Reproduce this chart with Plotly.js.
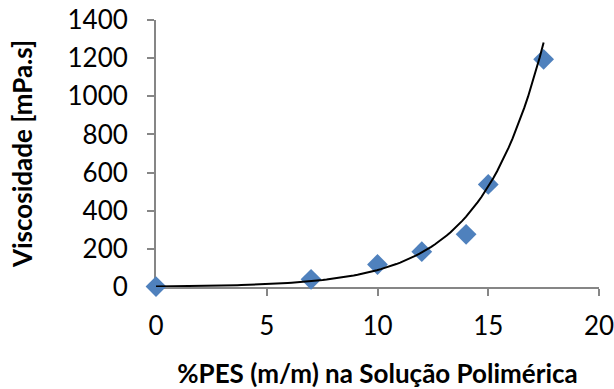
<!DOCTYPE html>
<html>
<head>
<meta charset="utf-8">
<script src="https://cdn.plot.ly/plotly-3.0.1.min.js"></script>
<style>html,body{margin:0;padding:0;background:#fff;}#chart{width:614px;height:389px;}</style>
</head>
<body>
<div id="chart"></div>
<script>
// Data
const pesPercent = [0, 7, 10, 12, 14, 15, 17.5];
const viscosity = [2, 40, 118, 185, 276, 538, 1194];
const xTickValues = [0, 5, 10, 15, 20];
const yTickValues = [0, 200, 400, 600, 800, 1000, 1200, 1400];
const xTitle = '%PES (m/m) na Solução Polimérica';
const yTitle = 'Viscosidade [mPa.s]';

// Exponential trendline (least squares on ln y), as the spreadsheet does
const n = pesPercent.length;
const lnY = viscosity.map(v => Math.log(v));
const mx = pesPercent.reduce((a, b) => a + b, 0) / n;
const my = lnY.reduce((a, b) => a + b, 0) / n;
let sxy = 0, sxx = 0;
for (let i = 0; i < n; i++) { sxy += (pesPercent[i] - mx) * (lnY[i] - my); sxx += (pesPercent[i] - mx) ** 2; }
const b = sxy / sxx;
const a = Math.exp(my - b * mx);
const xMin = Math.min(...pesPercent), xMax = Math.max(...pesPercent);
const trendX = [], trendY = [];
for (let k = 0; k <= 100; k++) { const x = xMin + (xMax - xMin) * k / 100; trendX.push(x); trendY.push(a * Math.exp(b * x)); }

const font = 'Lato, "Open Sans", sans-serif';
const data = [
  {x: pesPercent, y: viscosity, mode: 'markers', marker: {symbol: 'diamond', size: 16, color: '#4F81BD'}, cliponaxis: false, showlegend: false},
  {x: trendX, y: trendY, mode: 'lines', line: {color: '#000000', width: 2}, hoverinfo: 'skip', cliponaxis: false, showlegend: false}
];
const layout = {
  width: 614, height: 389,
  margin: {l: 156, r: 15, t: 20, b: 102},
  paper_bgcolor: '#ffffff', plot_bgcolor: '#ffffff',
  showlegend: false,
  xaxis: {
    range: [0, 20], tickvals: xTickValues, ticktext: xTickValues.map(String),
    showgrid: false, zeroline: false, showline: true, linecolor: '#868686', linewidth: 2,
    ticks: 'outside', ticklen: 7, tickwidth: 2, tickcolor: '#868686', layer: 'below traces',
    ticklabelstandoff: 8, ticklabeloverflow: 'allow',
    tickfont: {family: font, size: 26, color: '#000'},
    title: {text: xTitle, font: {family: font, size: 26, color: '#000', weight: 'bold'}, standoff: 27},
    automargin: false
  },
  yaxis: {
    range: [0, 1400], tickvals: yTickValues, ticktext: yTickValues.map(String),
    showgrid: false, zeroline: false, showline: true, linecolor: '#868686', linewidth: 2,
    ticks: 'outside', ticklen: 7, tickwidth: 2, tickcolor: '#868686', layer: 'below traces',
    ticklabelstandoff: 14, ticklabeloverflow: 'allow',
    tickfont: {family: font, size: 26, color: '#000'},
    title: {text: yTitle, font: {family: font, size: 26, color: '#000', weight: 'bold'}, standoff: 27},
    automargin: false
  }
};
Plotly.newPlot('chart', data, layout, {displayModeBar: false, staticPlot: true});
</script>
</body>
</html>
